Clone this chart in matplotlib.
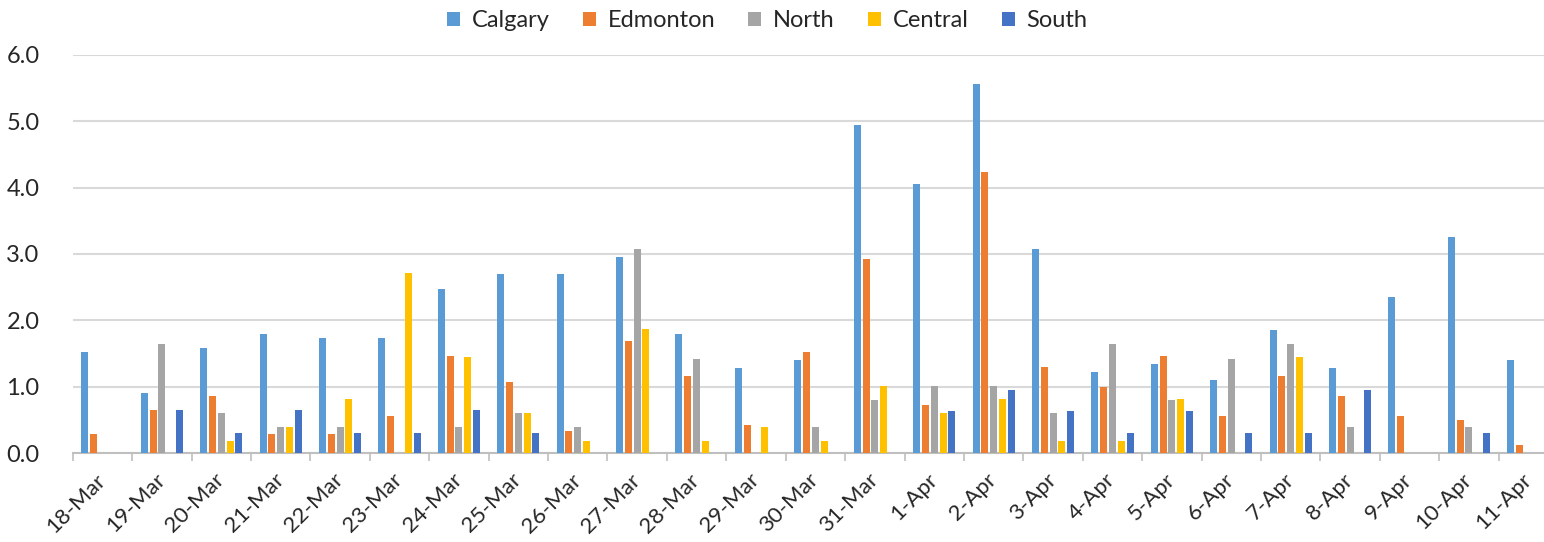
import numpy as np
import matplotlib.pyplot as plt

plt.rcParams['font.family'] = ['Lato', 'DejaVu Sans']

dates = ['18-Mar', '19-Mar', '20-Mar', '21-Mar', '22-Mar', '23-Mar', '24-Mar',
         '25-Mar', '26-Mar', '27-Mar', '28-Mar', '29-Mar', '30-Mar', '31-Mar',
         '1-Apr', '2-Apr', '3-Apr', '4-Apr', '5-Apr', '6-Apr', '7-Apr',
         '8-Apr', '9-Apr', '10-Apr', '11-Apr']

calgary = [1.53, 0.90, 1.59, 1.79, 1.73, 1.73, 2.47, 2.70, 2.70, 2.96, 1.79, 1.28,
           1.40, 4.94, 4.05, 5.56, 3.08, 1.22, 1.34, 1.10, 1.85, 1.28, 2.35, 3.26, 1.40]
edmonton = [0.29, 0.65, 0.86, 0.29, 0.29, 0.56, 1.47, 1.08, 0.34, 1.69, 1.16, 0.42,
            1.53, 2.92, 0.72, 4.23, 1.30, 1.00, 1.47, 0.56, 1.16, 0.86, 0.56, 0.50, 0.13]
north = [0.0, 1.65, 0.60, 0.40, 0.40, 0.0, 0.40, 0.60, 0.40, 3.08, 1.42, 0.0,
         0.40, 0.80, 1.02, 1.02, 0.60, 1.65, 0.80, 1.42, 1.65, 0.40, 0.0, 0.40, 0.0]
central = [0.0, 0.0, 0.19, 0.40, 0.82, 2.72, 1.45, 0.60, 0.19, 1.87, 0.19, 0.40,
           0.19, 1.02, 0.60, 0.82, 0.19, 0.19, 0.82, 0.0, 1.45, 0.0, 0.0, 0.0, 0.0]
south = [0.0, 0.65, 0.30, 0.65, 0.30, 0.30, 0.65, 0.30, 0.0, 0.0, 0.0, 0.0,
         0.0, 0.0, 0.64, 0.96, 0.64, 0.30, 0.64, 0.30, 0.30, 0.96, 0.0, 0.30, 0.0]

series = ['Calgary', 'Edmonton', 'North', 'Central', 'South']
colors = ['#5B9BD5', '#ED7D31', '#A5A5A5', '#FFC000', '#4472C4']
values = [calgary, edmonton, north, central, south]

fig = plt.figure(figsize=(15.44, 5.42), dpi=100)
# plot area runs a little past the right edge (11-Apr is cut off in the original)
ax = fig.add_axes([0.0471, 0.1637, 0.962, 0.7354])

x = np.arange(len(dates))
pitch = 0.148
bw = 0.118
for i in range(5):
    ax.bar(x + (i - 2) * pitch, values[i], width=bw, color=colors[i],
           label=series[i], zorder=3)

ax.set_xlim(-0.5, len(dates) - 0.5)
ax.set_ylim(0, 6)
ax.set_yticks(np.arange(0, 6.5, 1.0))
ax.set_yticklabels(['%.1f' % v for v in np.arange(0, 6.5, 1.0)])
ax.yaxis.grid(True, color='#D9D9D9', linewidth=1.5, zorder=0)
ax.tick_params(axis='y', length=0, labelsize=17, pad=24, labelcolor='#262626')

ax.set_xticks(x)
ax.set_xticklabels(dates, rotation=45, ha='right', va='center',
                   rotation_mode='anchor', fontsize=16, color='#262626')
ax.set_xticks(np.arange(-0.5, len(dates), 1.0), minor=True)
ax.tick_params(axis='x', which='major', length=0, pad=17)
ax.tick_params(axis='x', which='minor', length=6, color='#BFBFBF', width=1.2)

for s in ['top', 'right', 'left']:
    ax.spines[s].set_visible(False)
ax.spines['bottom'].set_color('#BFBFBF')
ax.spines['bottom'].set_linewidth(1.5)

fig.legend(loc='upper center', bbox_to_anchor=(0.497, 1.02), ncol=5, frameon=False,
           fontsize=17, handlelength=0.55, handleheight=0.55, handletextpad=0.5,
           columnspacing=1.4, labelcolor='#262626')

fig.savefig('out.png', dpi=100)
